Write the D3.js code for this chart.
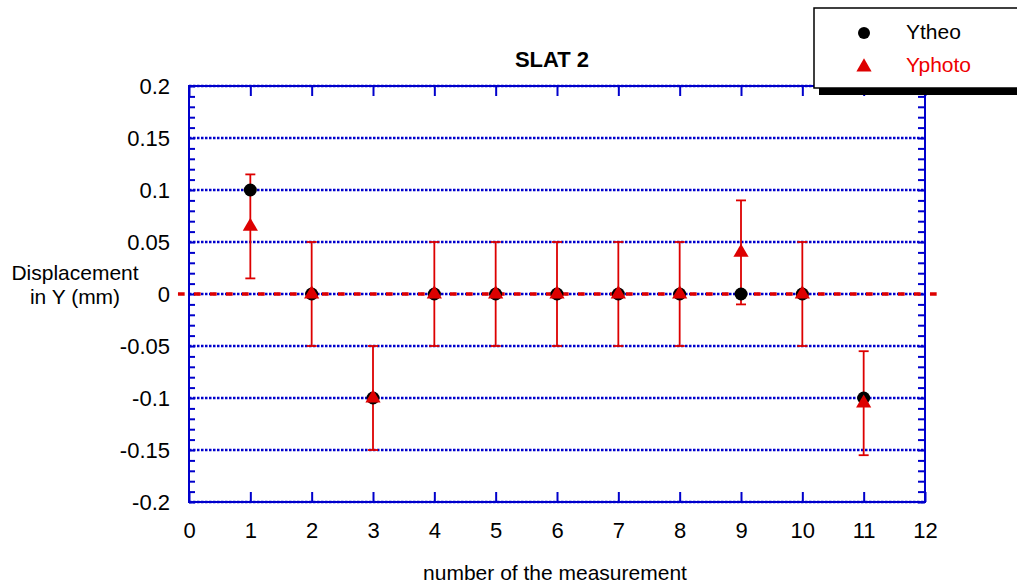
<!DOCTYPE html>
<html>
<head>
<meta charset="utf-8">
<script src="https://cdn.jsdelivr.net/npm/d3@7"></script>
<style>
  body { margin: 0; background: #fff; }
  text { font-family: "Liberation Sans", Arial, sans-serif; }
</style>
</head>
<body>
<div id="chart"></div>
<script>
// Data
const measurements = [1, 2, 3, 4, 5, 6, 7, 8, 9, 10, 11];
const yTheo = [0.1, 0, -0.1, 0, 0, 0, 0, 0, 0, 0, -0.1];
const yPhoto = [0.065, 0, -0.1, 0, 0, 0, 0, 0, 0.04, 0, -0.105];
const yPhotoErr = [0.05, 0.05, 0.05, 0.05, 0.05, 0.05, 0.05, 0.05, 0.05, 0.05, 0.05];
const xTicks = [0, 1, 2, 3, 4, 5, 6, 7, 8, 9, 10, 11, 12];
const yTicks = [0.2, 0.15, 0.1, 0.05, 0, -0.05, -0.1, -0.15, -0.2];
const yTickLabels = ["0.2", "0.15", "0.1", "0.05", "0", "-0.05", "-0.1", "-0.15", "-0.2"];
const seriesNames = ["Ytheo", "Yphoto"];

const W = 1017, H = 584;
const margin = { top: 86, right: 92, bottom: 82, left: 189 };
const width = W - margin.left - margin.right;
const height = H - margin.top - margin.bottom;
const blue = "#0000cc", red = "#dd0000";
const fontStack = "'Liberation Sans', Arial, sans-serif";

const svgRoot = d3.select("#chart").append("svg")
    .attr("width", W).attr("height", H);
const svg = svgRoot.append("g")
    .attr("transform", "translate(" + margin.left + "," + margin.top + ")");

const xScale = d3.scaleLinear().domain([0, 12]).range([0, width]);
const yScale = d3.scaleLinear().domain([-0.2, 0.2]).range([height, 0]);

// dotted horizontal grid
svg.append("g")
    .selectAll("line").data(yTicks).join("line")
    .attr("x1", 0).attr("x2", width)
    .attr("y1", d => yScale(d)).attr("y2", d => yScale(d))
    .attr("stroke", blue).attr("stroke-width", 2.5)
    .attr("stroke-dasharray", "2.5,1.5");

// minor y ticks (every 0.01)
const minorY = d3.range(-20, 21).map(i => i / 100);

// left axis: inward ticks, then labels
const leftAxis = svg.append("g")
    .call(d3.axisLeft(yScale).tickValues(minorY).tickSize(-6).tickFormat(""));
leftAxis.selectAll("line").attr("stroke", blue).attr("stroke-width", 2);
leftAxis.select(".domain").remove();
svg.append("g")
    .call(d3.axisLeft(yScale).tickValues(yTicks).tickSize(0).tickPadding(19)
        .tickFormat((d, i) => yTickLabels[i]))
    .call(g => g.select(".domain").remove())
    .selectAll("text").attr("font-size", 22).attr("fill", "#000")
    .style("font-family", fontStack);

// right axis ticks, pointing inward
const rightAxis = svg.append("g")
    .attr("transform", "translate(" + width + ",0)")
    .call(d3.axisRight(yScale).tickValues(minorY).tickSize(-7).tickFormat(""));
rightAxis.selectAll("line").attr("stroke", blue).attr("stroke-width", 2);
rightAxis.select(".domain").remove();

// bottom axis with labels, ticks pointing up
const bottomAxis = svg.append("g")
    .attr("transform", "translate(0," + height + ")")
    .call(d3.axisBottom(xScale).tickValues(xTicks).tickSize(-10).tickPadding(20));
bottomAxis.select(".domain").remove();
bottomAxis.selectAll("line").attr("stroke", blue).attr("stroke-width", 2);
bottomAxis.selectAll("text").attr("font-size", 22).attr("fill", "#000")
    .style("font-family", fontStack);

// top axis ticks pointing down
const topAxis = svg.append("g")
    .call(d3.axisTop(xScale).tickValues(xTicks).tickSize(-10).tickFormat(""));
topAxis.select(".domain").remove();
topAxis.selectAll("line").attr("stroke", blue).attr("stroke-width", 2);

// frame
svg.append("rect")
    .attr("x", 0).attr("y", 0).attr("width", width).attr("height", height)
    .attr("fill", "none").attr("stroke", blue).attr("stroke-width", 2);

// red dashed zero line, reaching a bit beyond the frame
svg.append("line")
    .attr("x1", xScale(-0.18)).attr("x2", xScale(12.2))
    .attr("y1", yScale(0)).attr("y2", yScale(0))
    .attr("stroke", red).attr("stroke-width", 3.5)
    .attr("stroke-dasharray", "6.7,9.3");

// error bars for Yphoto
const errG = svg.append("g").attr("stroke", red).attr("stroke-width", 1.8);
measurements.forEach((m, i) => {
    const x = xScale(m);
    const y1 = yScale(yPhoto[i] + yPhotoErr[i]);
    const y2 = yScale(yPhoto[i] - yPhotoErr[i]);
    errG.append("line").attr("x1", x).attr("x2", x).attr("y1", y1).attr("y2", y2);
    errG.append("line").attr("x1", x - 5).attr("x2", x + 5).attr("y1", y1).attr("y2", y1);
    errG.append("line").attr("x1", x - 5).attr("x2", x + 5).attr("y1", y2).attr("y2", y2);
});

// Ytheo circles
svg.append("g").selectAll("circle")
    .data(measurements).join("circle")
    .attr("cx", d => xScale(d))
    .attr("cy", (d, i) => yScale(yTheo[i]))
    .attr("r", 6.5).attr("fill", "#000");

// Yphoto triangles
const tri = d3.symbol().type(d3.symbolTriangle).size(100);
svg.append("g").selectAll("path")
    .data(measurements).join("path")
    .attr("d", tri)
    .attr("transform", (d, i) => "translate(" + xScale(d) + "," + yScale(yPhoto[i]) + ")")
    .attr("fill", red);

// title
svgRoot.append("text")
    .attr("x", 552).attr("y", 67).attr("text-anchor", "middle")
    .attr("font-size", 22).attr("font-weight", "bold").text("SLAT 2");

// axis titles
svgRoot.append("text")
    .attr("x", 555).attr("y", 580).attr("text-anchor", "middle")
    .attr("font-size", 21).text("number of the measurement");
const yTitle = svgRoot.append("text")
    .attr("text-anchor", "middle").attr("font-size", 21);
yTitle.append("tspan").attr("x", 75).attr("y", 280).text("Displacement");
yTitle.append("tspan").attr("x", 75).attr("y", 304).text("in Y (mm)");

// legend with drop shadow
const legend = svgRoot.append("g");
legend.append("rect")
    .attr("x", 819).attr("y", 13).attr("width", 210).attr("height", 82)
    .attr("fill", "#000");
legend.append("rect")
    .attr("x", 814).attr("y", 8).attr("width", 210).attr("height", 80)
    .attr("fill", "#fff").attr("stroke", "#000").attr("stroke-width", 1.5);
legend.append("circle").attr("cx", 864).attr("cy", 33).attr("r", 6).attr("fill", "#000");
legend.append("path").attr("d", tri)
    .attr("transform", "translate(864,67)").attr("fill", red);
legend.selectAll("text.lbl").data(seriesNames).join("text")
    .attr("class", "lbl")
    .attr("x", 906).attr("y", (d, i) => 39 + i * 33)
    .attr("font-size", 21)
    .attr("fill", (d, i) => i === 0 ? "#000" : "#ee0000")
    .text(d => d);
</script>
</body>
</html>
